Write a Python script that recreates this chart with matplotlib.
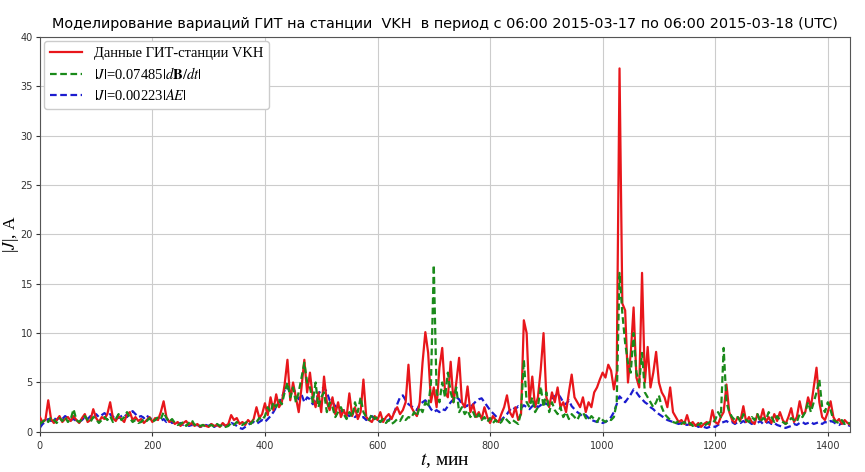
import numpy as np
import matplotlib.pyplot as plt

plt.rcParams['mathtext.fontset'] = 'stix'

# время, мин (шаг 5 минут)
t = np.arange(0, 1441, 5)

# данные ГИТ-станции VKH, А
gic_vkh = [
    1.5, 1.0, 1.2, 3.2, 1.3, 0.9, 1.2, 1.6, 1.0, 1.3, 1.5, 1.1,
    1.6, 1.2, 0.9, 1.4, 1.8, 1.0, 1.2, 2.3, 1.4, 1.0, 1.5, 1.3,
    1.8, 3.0, 1.4, 1.1, 1.6, 1.3, 1.0, 1.8, 2.0, 1.2, 1.5, 1.1,
    1.3, 0.9, 1.2, 1.5, 1.0, 1.4, 1.2, 2.0, 3.1, 1.5, 1.0, 1.2,
    0.8, 1.0, 0.6, 0.9, 1.1, 0.7, 0.9, 0.6, 0.8, 0.5, 0.7, 0.6,
    0.5, 0.8, 0.6, 0.7, 0.5, 0.9, 0.6, 0.8, 1.7, 1.2, 1.4, 0.8,
    1.0, 0.7, 1.2, 0.9, 1.3, 2.5, 1.4, 1.8, 2.9, 1.7, 3.5, 2.2,
    3.8, 2.5, 3.0, 4.8, 7.3, 3.2, 5.0, 3.5, 2.0, 4.5, 7.3, 4.0,
    6.0, 3.5, 2.5, 4.0, 2.0, 5.6, 3.0, 2.2, 3.5, 1.8, 3.0, 1.5,
    2.2, 1.5, 3.9, 1.6, 2.5, 1.3, 2.0, 5.3, 1.5, 1.2, 1.0, 1.6,
    1.2, 2.0, 1.0, 1.5, 1.8, 1.3, 2.0, 2.5, 1.8, 2.2, 3.0, 6.8,
    2.5, 2.0, 1.6, 3.0, 7.0, 10.1, 8.0, 3.0, 4.5, 2.5, 6.5, 8.5,
    4.0, 3.5, 7.1, 3.0, 5.0, 7.5, 3.0, 2.5, 4.6, 2.0, 2.8, 1.5,
    2.0, 1.3, 2.5, 1.5, 0.9, 1.6, 1.2, 1.0, 1.8, 2.5, 3.7, 2.0,
    1.5, 2.5, 1.2, 1.8, 11.3, 10.0, 3.0, 5.6, 2.5, 3.5, 6.3, 10.0,
    3.5, 2.5, 4.0, 3.0, 4.5, 2.5, 3.0, 2.0, 4.0, 5.8, 3.5, 3.0,
    2.5, 3.5, 2.0, 3.0, 2.5, 4.0, 4.5, 5.3, 6.0, 5.5, 6.8, 6.2,
    4.3, 6.0, 36.8, 13.0, 12.3, 5.0, 8.0, 12.6, 5.5, 4.5, 16.1, 5.0,
    8.6, 4.5, 6.0, 8.1, 5.0, 4.0, 3.5, 2.5, 4.5, 2.0, 1.5, 1.0,
    1.2, 0.8, 1.7, 0.7, 1.0, 0.6, 0.9, 0.5, 0.8, 1.0, 0.7, 2.2,
    1.0, 0.8, 1.5, 2.0, 4.8, 2.0, 1.2, 0.9, 1.5, 1.2, 2.6, 1.0,
    1.5, 1.0, 0.8, 1.8, 1.2, 2.3, 1.0, 1.5, 0.9, 1.8, 1.1, 2.0,
    1.2, 0.8, 1.5, 2.4, 1.0, 1.5, 3.1, 1.8, 2.0, 3.5, 2.5, 4.5,
    6.5, 3.0, 1.5, 1.2, 2.0, 3.1, 1.5, 1.0, 1.3, 0.8, 1.2, 0.9,
    0.7,
]

# модель |J| = 0.07485 |dB/dt|
model_dbdt = [
    0.8, 1.0, 1.3, 1.0, 1.5, 1.2, 0.9, 1.4, 1.1, 1.5, 1.0, 1.3,
    2.3, 1.2, 1.0, 1.3, 1.6, 1.2, 1.0, 1.5, 1.3, 0.9, 1.2, 1.5,
    1.2, 1.6, 1.0, 1.3, 1.8, 1.2, 1.5, 2.0, 1.4, 1.0, 1.2, 0.9,
    1.0, 1.3, 1.1, 1.4, 1.0, 1.2, 1.5, 1.3, 2.0, 1.4, 1.0, 1.3,
    0.9, 0.7, 0.8, 1.0, 0.6, 0.9, 1.2, 0.7, 0.8, 0.6, 0.7, 0.5,
    0.6, 0.7, 0.5, 0.8, 0.6, 0.7, 0.5, 0.6, 0.9, 0.7, 1.0, 0.8,
    0.7, 0.9, 1.1, 0.8, 1.2, 1.0, 1.4, 1.2, 1.6, 2.5, 2.0, 3.0,
    2.5, 3.2, 2.8, 4.0, 5.0, 3.5, 4.5, 3.0, 4.0, 5.5, 7.0, 5.0,
    4.5, 3.0, 5.0, 2.5, 3.5, 4.0, 2.0, 3.0, 2.5, 1.5, 2.0, 2.5,
    1.8, 1.3, 2.0, 1.5, 3.0, 2.0, 3.5, 2.0, 1.5, 1.2, 1.8, 1.3,
    1.5, 1.0, 1.3, 0.9, 1.2, 0.8, 1.0, 1.3, 1.1, 1.6, 1.2, 1.5,
    1.4, 2.0, 1.6, 2.5, 2.0, 3.0, 2.5, 5.0, 16.9, 4.0, 3.0, 5.0,
    3.5, 6.0, 4.0, 3.0, 4.5, 2.0, 2.5, 1.8, 2.2, 1.5, 2.0, 1.3,
    1.8, 1.2, 1.5, 1.0, 1.4, 0.9, 1.2, 0.8, 1.0, 1.5, 1.2, 0.9,
    1.2, 1.0, 0.8, 2.0, 7.3, 3.0, 2.5, 3.5, 2.0, 2.5, 4.6, 2.5,
    4.0, 2.0, 3.0, 2.2, 1.8, 2.5, 1.5, 2.0, 1.3, 1.8, 1.5, 1.2,
    1.8, 2.0, 1.4, 1.2, 1.6, 1.3, 1.0, 1.5, 1.2, 1.0, 1.3, 1.2,
    1.5, 3.0, 16.1, 12.0, 9.0, 7.0, 6.0, 10.0, 6.0, 5.0, 8.0, 4.0,
    3.5, 3.0, 2.5, 3.0, 3.7, 2.5, 1.8, 1.5, 1.2, 1.0, 0.9, 1.1,
    0.8, 1.0, 0.7, 0.9, 0.6, 0.8, 0.7, 0.9, 0.6, 0.8, 1.0, 0.9,
    1.2, 2.0, 1.5, 8.5, 3.0, 2.0, 1.5, 1.2, 1.5, 1.0, 1.8, 1.2,
    1.0, 1.5, 1.2, 1.8, 1.0, 1.4, 1.2, 2.0, 1.5, 1.0, 1.6, 1.2,
    1.0, 0.8, 1.0, 1.4, 1.2, 1.0, 1.8, 1.5, 2.0, 3.0, 2.0, 3.0,
    4.0, 5.3, 2.5, 2.0, 3.0, 2.2, 1.2, 1.0, 0.9, 1.2, 0.8, 1.0,
    0.8,
]

# модель |J| = 0.00223 |AE|
model_ae = [
    0.4, 0.8, 1.0, 1.3, 1.1, 1.4, 1.2, 1.5, 1.3, 1.6, 1.4, 1.2,
    1.3, 1.1, 1.0, 1.2, 1.5, 1.3, 1.6, 1.4, 1.8, 1.5, 1.7, 1.9,
    1.6, 1.8, 1.5, 1.7, 1.4, 1.6, 1.8, 1.5, 1.9, 2.1, 1.8, 1.5,
    1.6, 1.4, 1.7, 1.3, 1.5, 1.2, 1.4, 1.1, 1.3, 1.0, 1.2, 0.9,
    1.0, 0.8, 0.9, 0.7, 0.8, 0.6, 0.7, 0.6, 0.7, 0.5, 0.6, 0.7,
    0.6, 0.8, 0.5, 0.7, 0.6, 0.8, 0.6, 0.7, 0.9, 0.8, 0.6, 0.4,
    0.3, 0.5, 0.7, 0.9, 1.0, 0.8, 1.0, 1.2, 1.0, 1.3, 1.6, 2.0,
    2.5, 3.0, 3.5, 4.2, 4.5, 4.0, 4.5, 3.8, 3.3, 3.8, 3.0, 3.5,
    3.3, 2.8, 3.2, 3.8, 4.3, 4.5, 4.0, 3.2, 3.0, 2.6, 2.4, 2.0,
    2.2, 1.8, 1.6, 1.8, 1.5, 1.7, 1.4, 1.5, 1.2, 1.4, 1.6, 1.3,
    1.2, 1.0, 1.3, 1.1, 1.2, 1.5, 2.0, 2.8, 3.5, 3.7, 3.2, 2.8,
    2.6, 2.4, 2.2, 2.8, 3.0, 3.2, 2.8, 2.3, 2.0, 2.2, 2.0, 2.3,
    2.2, 2.6, 3.0, 3.3, 3.5, 3.3, 2.8, 2.5, 2.7, 2.5, 2.8, 3.1,
    3.3, 3.4, 3.0, 2.6, 2.2, 1.9, 1.6, 1.3, 1.2, 1.5, 1.8, 2.2,
    2.5, 2.3, 2.6, 2.4, 2.7, 2.5, 2.3, 2.6, 2.8, 2.5, 2.7, 3.0,
    2.8, 3.0, 3.4, 3.6, 3.9, 3.5, 3.0, 2.8, 3.2, 2.6, 2.3, 2.0,
    1.8, 1.5, 1.7, 1.4, 1.2, 1.1, 1.0, 1.1, 0.9, 1.0, 1.2, 1.5,
    2.0, 2.8, 3.6, 3.3, 3.0, 3.4, 3.8, 4.3, 4.0, 3.6, 3.3, 3.0,
    2.8, 2.5, 2.3, 2.0, 1.8, 1.6, 1.4, 1.2, 1.1, 1.0, 0.9, 0.8,
    0.9, 0.8, 0.7, 0.8, 0.6, 0.7, 0.5, 0.6, 0.5, 0.4, 0.5, 0.6,
    0.5, 0.7, 0.9, 1.0, 1.1, 0.9, 1.0, 0.8, 1.0, 0.9, 1.1, 0.9,
    1.0, 0.8, 1.0, 0.9, 1.1, 0.8, 0.9, 1.0, 0.8, 0.9, 0.7, 0.6,
    0.5, 0.4, 0.5, 0.6, 0.8, 0.7, 0.9, 1.0, 0.8, 0.9, 1.0, 0.8,
    0.9, 1.0, 0.8, 1.0, 0.9, 1.1, 1.0, 0.8, 0.7, 0.9, 0.8, 0.7,
    0.6,
]

fig = plt.figure(figsize=(8.65, 4.72), dpi=100)
ax = fig.add_axes([0.046, 0.085, 0.937, 0.837])

ax.plot(t, gic_vkh, color='#e8161b', lw=1.6, label='Данные ГИТ-станции VKH', zorder=3)
ax.plot(t, model_dbdt, color='#1a8a1a', lw=1.6, ls='--', dashes=(3, 1.6),
        label=r'$|J|$=0.07485$|d\mathbf{B}/dt|$', zorder=4)
ax.plot(t, model_ae, color='#1c1ccf', lw=1.6, ls='--', dashes=(3, 1.6),
        label=r'$|J|$=0.00223$|AE|$', zorder=2)

ax.set_xlim(0, 1440)
ax.set_ylim(0, 40)
ax.set_xticks(range(0, 1401, 200))
ax.set_yticks(range(0, 41, 5))
ax.tick_params(labelsize=7, colors='#333333', length=3)
ax.tick_params(axis='y', pad=2)
ax.grid(True, color='#cccccc', lw=0.8)
for s in ax.spines.values():
    s.set_color('#555555')

ax.set_title('Моделирование вариаций ГИТ на станции  VKH  в период с 06:00 2015-03-17 по 06:00 2015-03-18 (UTC)',
             fontsize=10.4, pad=6)
ax.set_xlabel(r'$t$, мин', fontsize=14, family='Liberation Serif', labelpad=0)
ax.set_ylabel(r'|$J$|, A', fontsize=12.5, family='Liberation Serif')
ax.yaxis.set_label_coords(-0.023, 0.5)

ax.legend(loc='upper left', prop={'family': 'Liberation Serif', 'size': 10.5},
          handlelength=2.2, borderaxespad=0.3, labelspacing=0.4,
          framealpha=1, edgecolor='#cccccc')

fig.savefig('out.png', dpi=100)
